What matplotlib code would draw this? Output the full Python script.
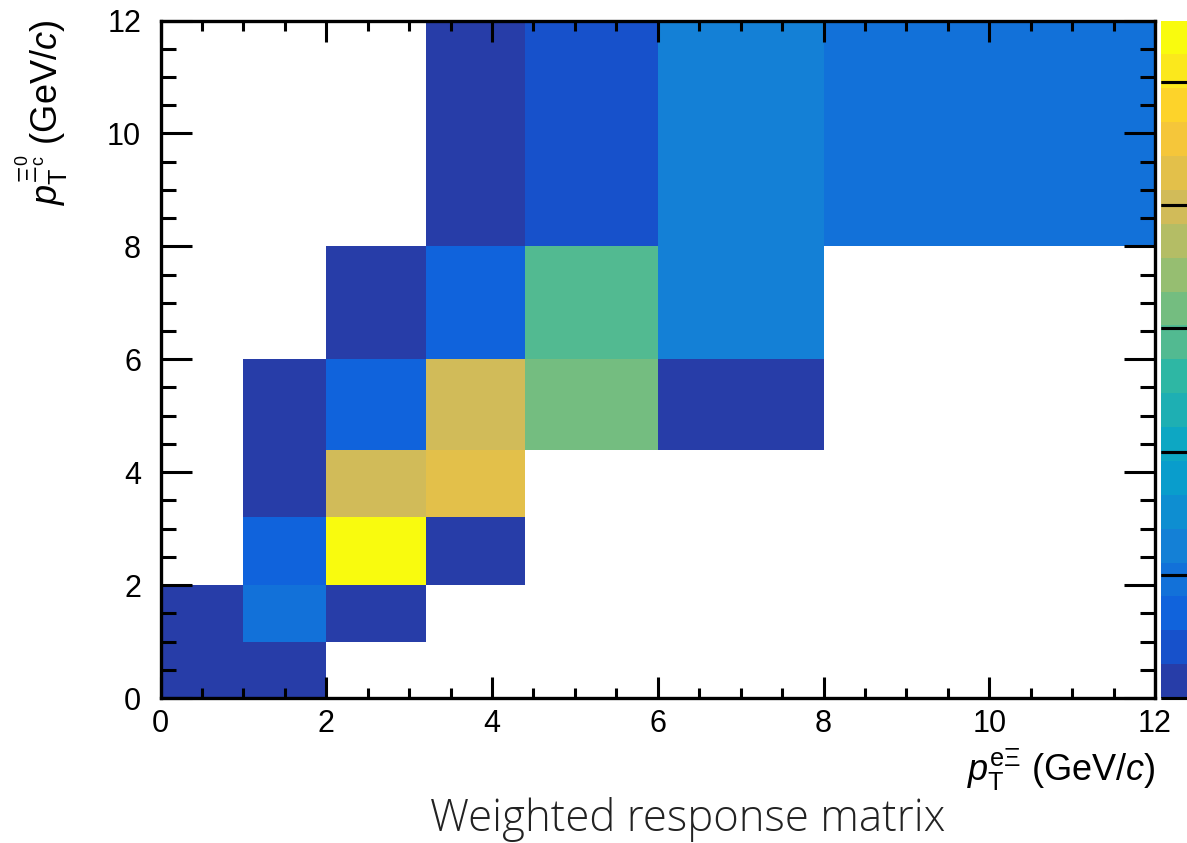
import numpy as np
import matplotlib
matplotlib.use("Agg")
import matplotlib.pyplot as plt
from matplotlib.colors import ListedColormap, BoundaryNorm, LinearSegmentedColormap
from matplotlib.ticker import MultipleLocator

plt.rcParams['font.family'] = ['Liberation Sans', 'DejaVu Sans']
plt.rcParams['mathtext.fontset'] = 'custom'
plt.rcParams['mathtext.rm'] = 'Liberation Sans'
plt.rcParams['mathtext.it'] = 'Liberation Sans:italic'
plt.rcParams['mathtext.bf'] = 'Liberation Sans:bold'

# ---- data ----
x_edges = [0, 1, 2, 3.2, 4.4, 6, 8, 12]
y_edges = [0, 1, 2, 3.2, 4.4, 6, 8, 12]
nan = np.nan
# rows: y bins from bottom; columns: x bins from left
row_0_1 = [0.003, 0.003, nan, nan, nan, nan, nan]
row_1_2 = [0.003, 0.019, 0.003, nan, nan, nan, nan]
row_2_3p2 = [nan, 0.014, 0.107, 0.003, nan, nan, nan]
row_3p2_4p4 = [nan, 0.003, 0.079, 0.085, nan, nan, nan]
row_4p4_6 = [nan, 0.003, 0.014, 0.079, 0.063, 0.003, nan]
row_6_8 = [nan, nan, 0.003, 0.014, 0.058, 0.025, nan]
row_8_12 = [nan, nan, nan, 0.003, 0.008, 0.025, 0.019]
z_min, z_max, n_levels = 0.0, 0.11, 20
cbar_ticks = [0.0, 0.02, 0.04, 0.06, 0.08, 0.10]
xticks = [0, 2, 4, 6, 8, 10, 12]
yticks = [0, 2, 4, 6, 8, 10, 12]

Z = np.array([row_0_1, row_1_2, row_2_3p2, row_3p2_4p4, row_4p4_6, row_6_8, row_8_12])

# ROOT kBird palette
stops = [0.0, 0.125, 0.25, 0.375, 0.5, 0.625, 0.75, 0.875, 1.0]
red = [0.2082, 0.0592, 0.0780, 0.0232, 0.1802, 0.5301, 0.8186, 0.9956, 0.9764]
green = [0.1664, 0.3599, 0.5041, 0.6419, 0.7178, 0.7492, 0.7328, 0.7862, 0.9832]
blue = [0.5293, 0.8684, 0.8385, 0.7914, 0.6425, 0.4662, 0.3499, 0.1968, 0.0539]
bird = LinearSegmentedColormap.from_list(
    'bird', [(s, (r, g, b)) for s, r, g, b in zip(stops, red, green, blue)], N=255)
band_cols = [bird(int((i + 0.99) * 255 / n_levels) / 254.0) for i in range(n_levels)]
cmap = ListedColormap(band_cols)
cmap.set_bad((0, 0, 0, 0))
bounds = np.linspace(z_min, z_max, n_levels + 1)
norm = BoundaryNorm(bounds, cmap.N)

W, H = 1187, 843
fig = plt.figure(figsize=(W / 100, H / 100), dpi=100)
ax = fig.add_axes([160.5 / W, 1 - 698 / H, (1155 - 160.5) / W, (698 - 20.5) / H])

Zm = np.ma.masked_invalid(Z)
mesh = ax.pcolormesh(x_edges, y_edges, Zm, cmap=cmap, norm=norm, edgecolors='none')
ax.set_xlim(0, 12)
ax.set_ylim(0, 12)
ax.set_xticks(xticks)
ax.set_yticks(yticks)
ax.xaxis.set_minor_locator(MultipleLocator(0.5))
ax.yaxis.set_minor_locator(MultipleLocator(0.5))
for s in ax.spines.values():
    s.set_linewidth(2.4)
    s.set_zorder(5)
ax.tick_params(axis='x', which='major', direction='in', length=15, width=2.2,
               top=True, bottom=True, labelsize=22, pad=8)
ax.tick_params(axis='x', which='minor', direction='in', length=7.5, width=2.2,
               top=True, bottom=True)
ax.tick_params(axis='y', which='major', direction='in', length=22, width=2.2,
               left=True, right=True, labelsize=22, pad=14)
ax.tick_params(axis='y', which='minor', direction='in', length=11, width=2.2,
               left=True, right=True)
ax.set_axisbelow(False)

ax.text(1.0, -0.072, r'$p_{\mathrm{T}}^{\mathrm{e\Xi}}$ (GeV/$c$)', transform=ax.transAxes,
        ha='right', va='top', fontsize=26)
fig.text(42 / W, 1 - 20 / H, r'$p_{\mathrm{T}}^{\Xi_{\mathrm{c}}^{0}}$ (GeV/$c$)',
         rotation=90, ha='center', va='top', fontsize=26)

# colour palette axis (partly outside the figure, as in the reference)
cax = fig.add_axes([1161 / W, 1 - 698 / H, 50 / W, (698 - 20.5) / H])
cb = fig.colorbar(mesh, cax=cax, ticks=cbar_ticks)
cb.outline.set_visible(False)
cax.tick_params(axis='y', direction='in', length=36, width=2.2, right=True,
                left=True, labelright=False, labelleft=False)

fig.text(688 / W, 1 - 831 / H, 'Weighted response matrix', ha='center', va='baseline',
         fontsize=31.5, color='#222222', fontweight='light',
         family=['Open Sans', 'DejaVu Sans'])

fig.savefig('out.png', dpi=100)
